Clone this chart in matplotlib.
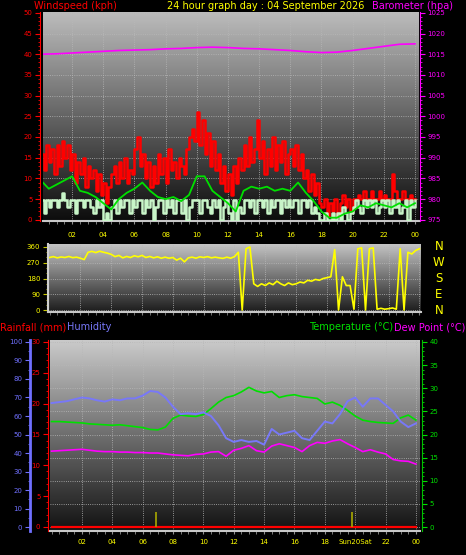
import numpy as np
import matplotlib
matplotlib.use('Agg')
import matplotlib.pyplot as plt
from matplotlib.colors import LinearSegmentedColormap
from matplotlib.ticker import MultipleLocator
from matplotlib.transforms import blended_transform_factory

# ---------------- data ----------------
# wind gust (kph), every 10 minutes
gust = [16, 12, 18, 14, 17, 11,  18, 13, 19, 15, 18, 12,  16, 9, 14, 11, 15, 8,
        13, 10, 12, 7, 11, 6,    9, 4, 8, 11, 13, 9,      14, 10, 15, 9, 12, 11,
        17, 20, 13, 16, 10, 14,  8, 13, 9, 16, 11, 15,    9, 17, 12, 14, 10, 15,
        13, 11, 17, 20, 22, 19,  26, 18, 24, 16, 21, 13,  19, 12, 16, 9, 13, 7,
        11, 6, 13, 9, 15, 12,    18, 13, 20, 14, 17, 24,  15, 19, 11, 17, 13, 20,
        12, 18, 14, 19, 11, 16,  17, 13, 18, 12, 16, 10,  12, 7, 11, 6, 9, 4,
        3, 5, 1, 4, 2, 5,        1, 4, 6, 3, 5, 2,        5, 5, 6, 5, 7, 5,
        5, 7, 5, 5, 7, 5,        6, 5, 5, 11, 7, 5,       5, 7, 5, 5, 6, 5, 5]
# wind speed (kph), every 10 minutes
speed = [4.8, 1.6, 4.8, 3.2, 4.8, 4.8,  3.2, 4.8, 6.4, 4.8, 3.2, 4.8,  4.8, 1.6, 4.8, 4.8, 3.2, 4.8,
         4.8, 3.2, 1.6, 4.8, 3.2, 4.8,  0, 1.6, 0, 3.2, 4.8, 1.6,      4.8, 3.2, 4.8, 4.8, 1.6, 4.8,
         3.2, 4.8, 4.8, 1.6, 4.8, 3.2,  4.8, 0, 3.2, 4.8, 4.8, 1.6,    4.8, 3.2, 4.8, 1.6, 4.8, 4.8,
         1.6, 4.8, 0, 3.2, 4.8, 4.8,    4.8, 1.6, 4.8, 4.8, 3.2, 1.6,  4.8, 3.2, 4.8, 0, 3.2, 4.8,
         1.6, 0, 4.8, 0, 3.2, 1.6,      4.8, 4.8, 3.2, 4.8, 1.6, 4.8,  4.8, 3.2, 4.8, 1.6, 4.8, 3.2,
         4.8, 4.8, 1.6, 4.8, 3.2, 4.8,  3.2, 4.8, 4.8, 1.6, 4.8, 4.8,  3.2, 4.8, 1.6, 3.2, 1.6, 0,
         0, 1.6, 0, 0, 1.6, 0,          1.6, 0, 3.2, 1.6, 0, 1.6,      3.2, 4.8, 3.2, 1.6, 4.8, 3.2,
         4.8, 3.2, 4.8, 1.6, 3.2, 4.8,  3.2, 4.8, 1.6, 4.8, 3.2, 4.8,  1.6, 3.2, 4.8, 0, 4.8, 3.2, 4.8]
# average wind (kph), every 30 minutes
avg_wind = [9.5, 7.5, 8.5, 9.5, 10.5, 7, 6.5, 5.5, 4, 2.5, 5, 6.5, 7.5, 9, 7, 5.5,
            5, 5.5, 4.5, 6, 10.5, 10.5, 7, 5.5, 4, 2, 7, 8, 7.5, 8, 7, 7.5,
            7, 9, 6.5, 4.5, 2, 0.5, 0.5, 1.5, 2, 3.5, 3, 4, 3.5, 3, 4, 3, 4]
# barometer (hPa), hourly
baro = [1015.0, 1015.1, 1015.3, 1015.5, 1015.7, 1015.9, 1016.0, 1016.1, 1016.3, 1016.4,
        1016.6, 1016.7, 1016.6, 1016.4, 1016.3, 1016.1, 1015.9, 1015.6, 1015.4, 1015.5,
        1015.9, 1016.4, 1016.9, 1017.4, 1017.5]
# wind direction (deg), every 15 minutes
wind_dir = [300, 305, 298, 303,  300, 306, 299, 302,  296, 288, 330, 335,  328, 336, 330, 325,
            318, 305, 312, 298,  306, 300, 310, 304,  312, 300, 306, 298,  304, 296, 302, 296,
            300, 285, 296, 275,  298, 302, 296, 304,  300, 305, 298, 302,  298, 295, 302, 296,
            305, 330, 0, 350,    360, 150, 135, 150,  140, 155, 145, 165,  150, 140, 155, 145,
            150, 160, 155, 170,  165, 175, 170, 180,  185, 190, 345, 0,    190, 140, 140, 5,
            350, 355, 0, 350,    355, 5, 10, 5,       8, 12, 5, 350,       0, 330, 320, 340, 350]
dir_labels = ['N', 'W', 'S', 'E', 'N']
dir_values = [360, 270, 180, 90, 0]
# humidity (%), temperature and dew point (C), every 30 minutes
humidity = [67, 67.5, 68, 69, 70, 69.5, 68.5, 67.8, 69, 68.5, 69.5, 69.5, 71, 73.5, 73, 70,
            65, 61, 61.5, 61, 62, 60, 55, 48, 46, 47, 46, 46.5, 44.5, 53, 50, 51,
            52, 48, 47, 52, 57, 56, 61, 68, 70, 65, 69.5, 69.5, 66, 62.5, 57, 54, 56]
temperature = [22.8, 22.8, 22.7, 22.6, 22.5, 22.3, 22.2, 22.1, 22.0, 22.1, 21.9, 21.7, 21.5,
               21.1, 21.0, 21.6, 23.5, 24.2, 24.0, 23.9, 24.3, 25.6, 27.0, 28.0, 28.4, 29.2,
               30.2, 29.4, 29.0, 29.3, 28.0, 28.4, 28.6, 28.2, 28.0, 27.8, 26.6, 27.0, 26.3,
               25.2, 24.0, 23.1, 22.8, 22.6, 22.5, 22.4, 23.6, 24.2, 23.1]
dew_point = [16.4, 16.5, 16.6, 16.7, 16.8, 16.6, 16.4, 16.3, 16.3, 16.2, 16.2, 16.1, 16.1,
             16.0, 16.0, 15.8, 15.6, 15.5, 15.4, 15.7, 15.8, 16.2, 16.3, 15.3, 16.6, 17.0,
             17.6, 16.5, 16.2, 17.5, 18.0, 17.6, 17.2, 16.3, 17.6, 18.3, 18.1, 18.6, 18.9,
             18.0, 17.2, 16.3, 16.7, 16.2, 15.8, 14.6, 14.3, 14.2, 13.6]
# rainfall (mm), hourly
rainfall = [0] * 25
# yellow markers on the bottom panel (hour, height in mm)
marker_hours = [6.9, 19.8]
marker_height = [2.4, 2.4]

hour_labels = ['02', '04', '06', '08', '10', '12', '14', '16', '18', '20', '22', '00']
bottom_labels = ['02', '04', '06', '08', '10', '12', '14', '16', '18', 'Sun20Sat', '22', '00']
hour_ticks = list(range(2, 25, 2))

t10 = np.arange(len(gust)) / 6.0
t15 = np.arange(len(wind_dir)) / 4.0
t30 = np.arange(len(avg_wind)) / 2.0
t60 = np.arange(len(baro))
t30b = np.arange(len(humidity)) / 2.0

PX = 0.72  # points per pixel at 100 dpi


def shade(ax, top, bottom):
    # vertical grey gradient behind the plot
    cmap = LinearSegmentedColormap.from_list('shade', [bottom, top])
    grad = np.linspace(1, 0, 256).reshape(-1, 1)
    ax.imshow(grad, cmap=cmap, aspect='auto', extent=[0, 1, 0, 1],
              transform=ax.transAxes, zorder=0, interpolation='bilinear')


def frame(ax):
    for s in ['top', 'right']:
        ax.spines[s].set_visible(False)
    ax.spines['bottom'].set_color('#c8c8c8')
    ax.spines['bottom'].set_linewidth(1.5)


W, H = 466, 555
fig = plt.figure(figsize=(W / 100, H / 100), dpi=100, facecolor='black')

# ---------------- wind speed / barometer ----------------
ax1 = fig.add_axes([43 / W, 1 - 221 / H, 376 / W, 209 / H])
shade(ax1, '#bcbcbc', '#0c0c0c')
ax1.plot(t10, gust, color='red', lw=1.8, drawstyle='steps-post', zorder=2)
ax1.plot(t10, speed, color='#c8f5c8', lw=1.8, drawstyle='steps-post', zorder=3)
ax1.plot(t30, avg_wind, color='#00e000', lw=1.3, zorder=4)
ax1.set_xlim(0.13, 24.26)
ax1.set_ylim(-0.3, 50.2)
ax1.yaxis.set_major_locator(MultipleLocator(5))
ax1.yaxis.set_minor_locator(MultipleLocator(1))
ax1.set_xticks(hour_ticks)
ax1.set_xticklabels(hour_labels)
ax1.xaxis.set_minor_locator(MultipleLocator(0.5))
ax1.grid(which='major', color='#b8b8b8', linestyle=':', linewidth=0.6)
frame(ax1)
ax1.spines['left'].set_color('red')
ax1.spines['left'].set_position(('outward', 3 * PX))
ax1.tick_params(axis='y', which='both', colors='red', labelsize=5, pad=2)
ax1.tick_params(axis='y', which='minor', length=1.5)
ax1.tick_params(axis='x', which='both', colors='#909090', labelcolor='yellow',
                labelsize=5, length=2, pad=6)

ax1b = ax1.twinx()
ax1b.plot(t60, baro, color='#ff00ff', lw=1.2)
ax1b.set_ylim(975 - 0.3, 1025.2)
ax1b.yaxis.set_major_locator(MultipleLocator(5))
ax1b.yaxis.set_minor_locator(MultipleLocator(1))
for s in ['left', 'top', 'bottom']:
    ax1b.spines[s].set_visible(False)
ax1b.spines['right'].set_color('#ff00ff')
ax1b.spines['right'].set_position(('outward', 1 * PX))
ax1b.tick_params(axis='y', which='both', colors='#ff00ff', labelsize=5, pad=2)
ax1b.tick_params(axis='y', which='minor', length=1.5)

fig.text(34 / W, 1 - 6 / H, 'Windspeed (kph)', color='red', fontsize=7, va='center')
fig.text(266 / W, 1 - 6 / H, '24 hour graph day : 04 September 2026', color='yellow',
         fontsize=7, va='center', ha='center')
fig.text(372 / W, 1 - 6 / H, 'Barometer (hpa)', color='#ff00ff', fontsize=7, va='center')

# ---------------- wind direction ----------------
ax2 = fig.add_axes([48 / W, 1 - 312 / H, 373 / W, 68 / H])
shade(ax2, '#c4c4c4', '#1c1c1c')
ax2.plot(t15, wind_dir, color='yellow', lw=1.2, zorder=2)
ax2.set_xlim(-0.1, 24.1)
ax2.set_ylim(-11, 377)
ax2.set_yticks([0, 90, 180, 270, 360])
ax2.yaxis.set_minor_locator(MultipleLocator(30))
ax2.set_xticks(hour_ticks)
ax2.set_xticklabels([])
ax2.xaxis.set_minor_locator(MultipleLocator(0.5))
ax2.grid(which='major', color='#b8b8b8', linestyle=':', linewidth=0.6)
frame(ax2)
ax2.spines['left'].set_color('#d0d0d0')
ax2.spines['left'].set_linewidth(1.5)
ax2.tick_params(axis='y', which='both', colors='#c8c800', labelcolor='yellow',
                labelsize=5, pad=2)
ax2.tick_params(axis='y', which='minor', length=1.5)
ax2.tick_params(axis='x', which='both', colors='#808080', length=2)
tr = blended_transform_factory(ax2.transAxes, ax2.transData)
for lab, v in zip(dir_labels, dir_values):
    ax2.text(1.048, v, lab, color='yellow', fontsize=8.5, ha='center', va='center',
             transform=tr)

# ---------------- rain / humidity / temperature ----------------
ax3 = fig.add_axes([50 / W, 1 - 531 / H, 370 / W, 191 / H])
shade(ax3, '#cacaca', '#121212')
ax3.set_xlim(-0.1, 24.27)
ax3.set_ylim(-0.65, 30.32)
ax3.yaxis.set_major_locator(MultipleLocator(5))
ax3.yaxis.set_minor_locator(MultipleLocator(1))
ax3.set_xticks(hour_ticks)
ax3.set_xticklabels(bottom_labels)
ax3.xaxis.set_minor_locator(MultipleLocator(0.5))
ax3.grid(axis='x', which='major', color='#b8b8b8', linestyle=':', linewidth=0.6)
frame(ax3)
ax3.spines['left'].set_color('red')
ax3.spines['left'].set_position(('outward', 2 * PX))
ax3.tick_params(axis='y', which='both', colors='red', labelsize=5, pad=2)
ax3.tick_params(axis='y', which='minor', length=1.5)
ax3.tick_params(axis='x', which='both', colors='#909090', labelcolor='yellow',
                labelsize=5, length=2, pad=4)

ax3t = ax3.twinx()
ax3t.plot(t30b, temperature, color='#00e000', lw=1.2)
ax3t.plot(t30b, dew_point, color='#ff00ff', lw=1.2)
ax3t.set_ylim(-0.86, 40.43)
ax3t.yaxis.set_major_locator(MultipleLocator(5))
ax3t.yaxis.set_minor_locator(MultipleLocator(1))
ax3t.grid(axis='y', which='major', color='#b8b8b8', linestyle=':', linewidth=0.6)
for s in ['left', 'top', 'bottom']:
    ax3t.spines[s].set_visible(False)
ax3t.spines['right'].set_color('#00c000')
ax3t.spines['right'].set_position(('outward', 2 * PX))
ax3t.tick_params(axis='y', which='both', colors='#00e000', labelsize=5, pad=2)
ax3t.tick_params(axis='y', which='minor', length=1.5)

ax3h = ax3.twinx()
ax3h.plot(t30b, humidity, color='#7878f8', lw=1.4)
ax3h.set_ylim(-2.16, 101.08)
ax3h.yaxis.set_major_locator(MultipleLocator(10))
ax3h.yaxis.set_minor_locator(MultipleLocator(5))
for s in ['right', 'top', 'bottom']:
    ax3h.spines[s].set_visible(False)
ax3h.spines['left'].set_visible(True)
ax3h.spines['left'].set_color('#7070ff')
ax3h.spines['left'].set_linewidth(2)
ax3h.spines['left'].set_position(('outward', 20 * PX))
ax3h.yaxis.set_ticks_position('left')
ax3h.tick_params(axis='y', which='both', colors='#7070ff', labelsize=5, pad=2)
ax3h.tick_params(axis='y', which='minor', length=1.5)

# rainfall and markers on top, in rainfall units
ax3r = ax3.twinx()
ax3r.set_ylim(-0.65, 30.32)
ax3r.plot(t60, rainfall, color='red', lw=1.6)
ax3r.vlines(marker_hours, 0, marker_height, color='#a8a800', lw=1.2)
ax3r.axis('off')

fig.text(0.5 / W, 1 - 327 / H, 'Rainfall (mm)', color='red', fontsize=7, va='center')
fig.text(67 / W, 1 - 327 / H, 'Humidity', color='#7878f8', fontsize=7, va='center')
fig.text(393 / W, 1 - 327 / H, 'Temperature (\u00b0C)', color='#00e000', fontsize=7,
         va='center', ha='right')
fig.text(465 / W, 1 - 327 / H, 'Dew Point (\u00b0C)', color='#ff00ff', fontsize=7,
         va='center', ha='right')

fig.savefig('out.png', dpi=100, facecolor='black')
